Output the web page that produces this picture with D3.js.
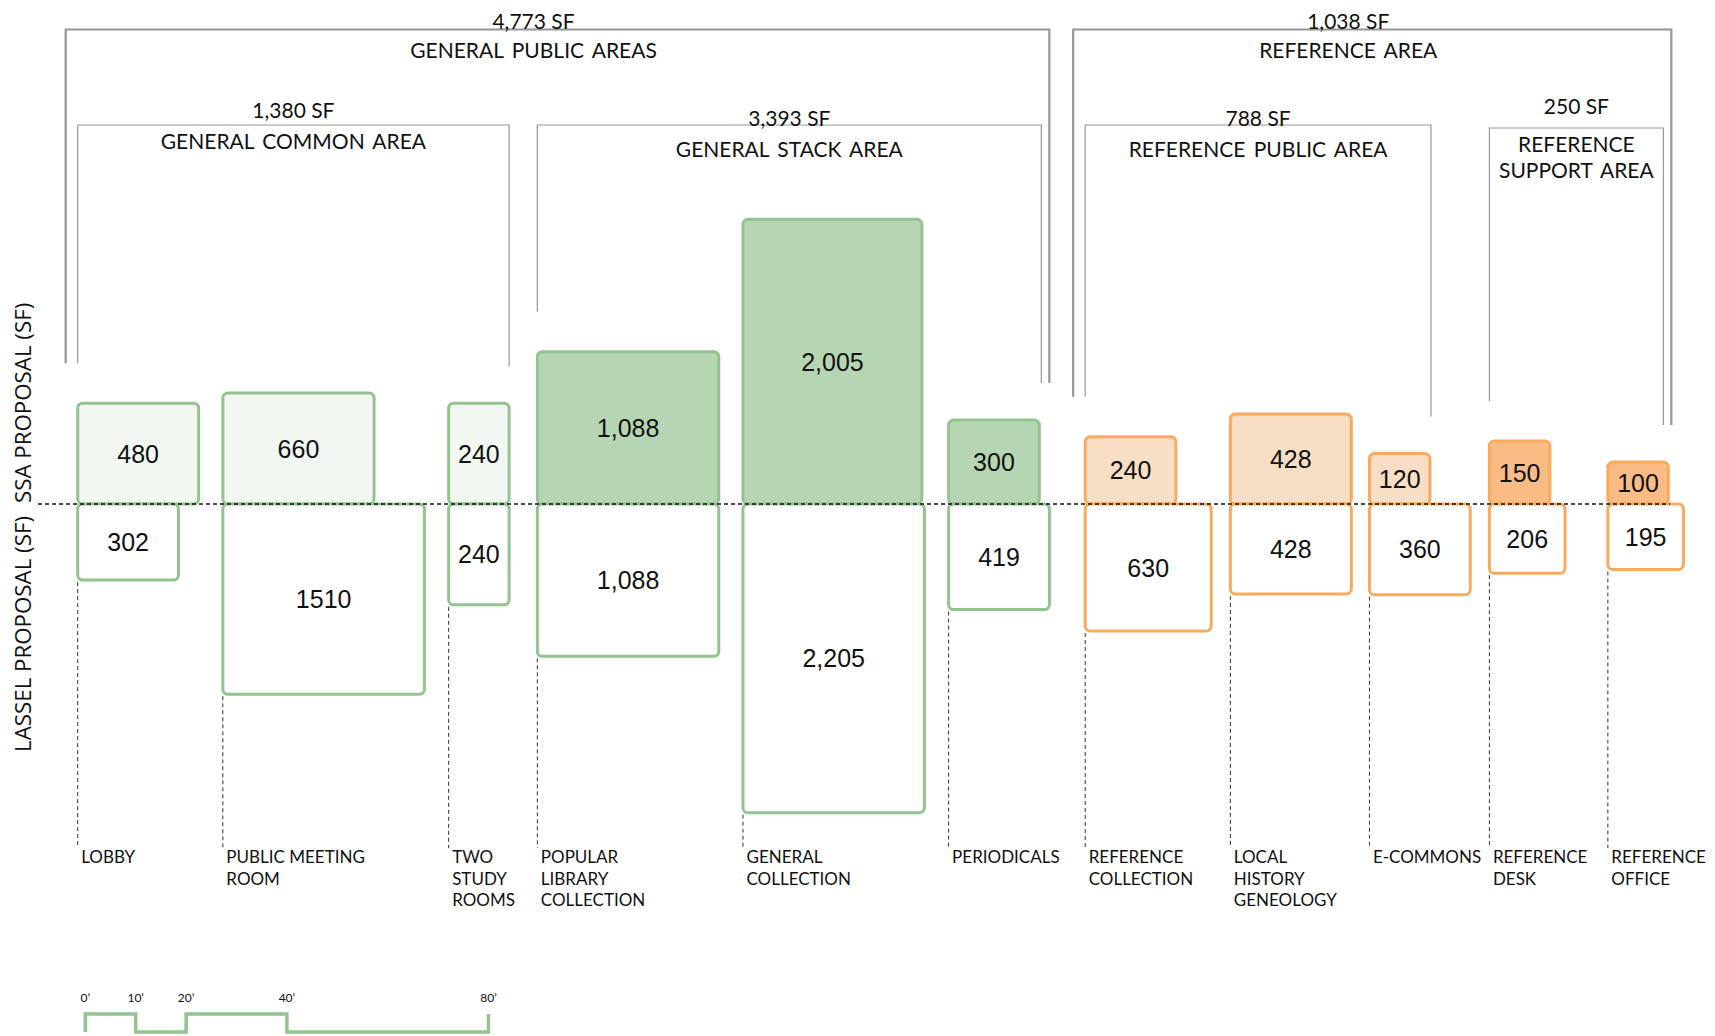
<!DOCTYPE html>
<html><head><meta charset="utf-8">
<script src="https://cdn.jsdelivr.net/npm/d3@7"></script>
<style>body{margin:0;background:#fff} svg{display:block}</style>
</head><body>
<svg id="chart" width="1715" height="1036"></svg>
<script>
// ---------------- DATA ----------------
const categories = [["LOBBY"],["PUBLIC MEETING","ROOM"],["TWO","STUDY","ROOMS"],["POPULAR","LIBRARY","COLLECTION"],
  ["GENERAL","COLLECTION"],["PERIODICALS"],["REFERENCE","COLLECTION"],["LOCAL","HISTORY","GENEOLOGY"],
  ["E-COMMONS"],["REFERENCE","DESK"],["REFERENCE","OFFICE"]];
const subgroupOf = [0,0,0,1,1,1,2,2,2,3,3];
const ssaValues = [480,660,240,1088,2005,300,240,428,120,150,100];
const lasselValues = [302,1510,240,1088,2205,419,630,428,360,206,195];
const ssaWidthFt = [24,30,12,36,35.5,18,18,24,12,12,12];
const lasselWidthFt = [20,40,12,36,36,20,25,24,20,15,15];
const subgroups = [["GENERAL COMMON AREA"],["GENERAL STACK AREA"],["REFERENCE PUBLIC AREA"],["REFERENCE","SUPPORT AREA"]];
const groupOf = [0,0,1,1];
const groups = ["GENERAL PUBLIC AREAS","REFERENCE AREA"];
const scaleTicksFt = [0,10,20,40,80];
const axisLabels = ["LASSEL PROPOSAL (SF)","SSA PROPOSAL (SF)"];

// ---------------- LAYOUT / STYLE ----------------
const PX_PER_FT = 5.04, X0 = 77.7, BASE_Y = 504;
const gapFt = [0,4.8,4.8,5.6,4.8,4.8,7.1,3.8,3.6,3.8,8.5];
const subRightInset = [0, 2, 1, -5];
const fillBySub = ["#f2f8f1","#b5d5b3","#f8dec5","#fabb85"];
const strokeByGroup = ["#93c48f","#f8aa5e"];
const GRAY = "#96969b";
const TITLE_FONT = "Lato, 'Open Sans', sans-serif";
const NUM_FONT = "'Liberation Sans', Arial, sans-serif";
const fmt = d3.format(",");

const svg = d3.select("#chart");
const x = d3.scaleLinear().domain([0,1]).range([X0, X0 + PX_PER_FT]);
const y = d3.scaleLinear().domain([0,1]).range([BASE_Y, BASE_Y - PX_PER_FT]);
const len = ft => x(ft) - x(0);

const leftFt = [];
categories.forEach((c,i) => {
  leftFt[i] = i === 0 ? 0 : leftFt[i-1] + Math.max(ssaWidthFt[i-1], lasselWidthFt[i-1]) + gapFt[i];
});
const rooms = categories.map((c,i) => ({
  i, label: c, sub: subgroupOf[i], grp: groupOf[subgroupOf[i]],
  left: leftFt[i], ssa: ssaValues[i], las: lasselValues[i],
  sw: ssaWidthFt[i], lw: lasselWidthFt[i],
  sd: ssaValues[i] / ssaWidthFt[i], ld: lasselValues[i] / lasselWidthFt[i]
}));

// ---- brackets ----
const subInfo = subgroups.map((s, k) => {
  const rs = rooms.filter(r => r.sub === k);
  const first = rs[0], last = rs[rs.length-1];
  return {
    k, name: s, total: d3.sum(rs, r => r.ssa),
    x1: x(first.left), x2: x(last.left + last.sw) + subRightInset[k],
    top: k === 3 ? 128 : 125,
    leftEnd: y(first.sd) - 40, rightEnd: y(last.sd) - 37
  };
});
const grpInfo = groups.map((g, j) => {
  const ss = subInfo.filter(s => groupOf[s.k] === j);
  const a = ss[0], b = ss[ss.length-1];
  return { name: g, total: d3.sum(ss, s => s.total),
    x1: a.x1 - 12, x2: b.x2 + 8, top: 29.5, leftEnd: a.leftEnd, rightEnd: b.rightEnd };
});
function bracket(b, w) {
  svg.append("path")
    .attr("d", `M${b.x1},${b.leftEnd}V${b.top}H${b.x2}V${b.rightEnd}`)
    .attr("fill","none").attr("stroke",GRAY).attr("stroke-width",w);
}
grpInfo.forEach(g => bracket(g, 2.2));
subInfo.forEach(s => bracket(s, 1.2));

// group labels
grpInfo.forEach(g => {
  const cx = (g.x1 + g.x2)/2 - 24;
  svg.append("text").attr("x",cx).attr("y",g.top - 1).attr("text-anchor","middle")
    .attr("font-family",TITLE_FONT).attr("font-size",21).attr("fill","#111")
    .text(fmt(g.total) + " SF");
  svg.append("text").attr("x",cx).attr("y",58).attr("text-anchor","middle")
    .attr("font-family",TITLE_FONT).attr("font-size",21).attr("fill","#111")
    .attr("word-spacing",3).text(g.name);
});
const subTotDy = [-7, 1, 1, -14], subNameY = [149, 157, 157, 152];
subInfo.forEach(s => {
  const cx = (s.x1 + s.x2)/2;
  svg.append("text").attr("x",cx).attr("y",s.top + subTotDy[s.k]).attr("text-anchor","middle")
    .attr("font-family",TITLE_FONT).attr("font-size",21).attr("fill","#111")
    .text(fmt(s.total) + " SF");
  const t = svg.append("text").attr("text-anchor","middle")
    .attr("font-family",TITLE_FONT).attr("font-size",21).attr("fill","#111").attr("word-spacing",3);
  s.name.forEach((ln, li) => t.append("tspan").attr("x",cx).attr("y",subNameY[s.k] + li*25.5).text(ln));
});

// ---- boxes ----
const gBoxes = svg.append("g");
gBoxes.selectAll("rect.ssa").data(rooms).join("rect").attr("class","ssa")
  .attr("x", d => x(d.left)).attr("width", d => len(d.sw))
  .attr("y", d => y(d.sd)).attr("height", d => y(0) - y(d.sd))
  .attr("rx",5).attr("fill", d => fillBySub[d.sub])
  .attr("stroke", d => strokeByGroup[d.grp]).attr("stroke-width",3);
gBoxes.selectAll("rect.las").data(rooms).join("rect").attr("class","las")
  .attr("x", d => x(d.left)).attr("width", d => len(d.lw))
  .attr("y", y(0)).attr("height", d => y(-d.ld) - y(0))
  .attr("rx",5).attr("fill","#fff")
  .attr("stroke", d => strokeByGroup[d.grp]).attr("stroke-width",3);

const numStyle = sel => sel.attr("text-anchor","middle").attr("dominant-baseline","central")
  .attr("font-family",NUM_FONT).attr("font-size",25).attr("fill","#111");
gBoxes.selectAll("text.ssa").data(rooms).join("text").attr("class","ssa").call(numStyle)
  .attr("x", d => x(d.left + d.sw/2)).attr("y", d => y(d.sd/2)).text(d => fmt(d.ssa));
gBoxes.selectAll("text.las").data(rooms).join("text").attr("class","las").call(numStyle)
  .attr("x", d => x(d.left + d.lw/2)).attr("y", d => y(-d.ld/2))
  .text(d => d.las === 1510 ? "1510" : fmt(d.las));

// dashed drop lines
svg.selectAll("line.drop").data(rooms).join("line").attr("class","drop")
  .attr("x1", d => x(d.left)).attr("x2", d => x(d.left))
  .attr("y1", d => y(-d.ld) + 2).attr("y2", 848)
  .attr("stroke","#333").attr("stroke-width",1).attr("stroke-dasharray","4,3");

// baseline
svg.append("line").attr("x1",38).attr("x2",1670).attr("y1",BASE_Y).attr("y2",BASE_Y)
  .attr("stroke","#111").attr("stroke-width",1.3).attr("stroke-dasharray","4,3");

// category labels
rooms.forEach(r => {
  const t = svg.append("text").attr("font-family",TITLE_FONT).attr("font-size",17).attr("fill","#111");
  r.label.forEach((ln, li) => t.append("tspan").attr("x", x(r.left) + 3.5).attr("y", 863 + li*21.5).text(ln));
});

// y-axis labels
svg.append("text").attr("transform",`translate(31,${BASE_Y + 12}) rotate(-90)`).attr("text-anchor","end")
  .attr("font-family","'Open Sans', sans-serif").attr("font-size",22.3).attr("fill","#111").text(axisLabels[0]);
svg.append("text").attr("transform",`translate(31,${BASE_Y - 1}) rotate(-90)`).attr("text-anchor","start")
  .attr("font-family","'Open Sans', sans-serif").attr("font-size",22.3).attr("fill","#111").text(axisLabels[1]);

// scale bar
const sx = d3.scaleLinear().domain([0, 80]).range([85.3, 85.3 + 80*PX_PER_FT]);
const TOP = 1014, BOT = 1032;
let d = `M${sx(0)},${BOT}`;
scaleTicksFt.slice(1).forEach((t, k) => {
  const cur = k % 2 === 0 ? TOP : BOT;
  d += `V${cur}H${sx(t)}`;
});
d += `V${TOP}`;
svg.append("path").attr("d", d).attr("fill","none").attr("stroke","#93c48f").attr("stroke-width",3.5);
svg.selectAll("text.tick").data(scaleTicksFt).join("text").attr("class","tick")
  .attr("x", t => sx(t)).attr("y", 1002).attr("text-anchor","middle")
  .attr("font-family",TITLE_FONT).attr("font-size",12).attr("fill","#111").text(t => t + "’");
</script>
</body></html>
